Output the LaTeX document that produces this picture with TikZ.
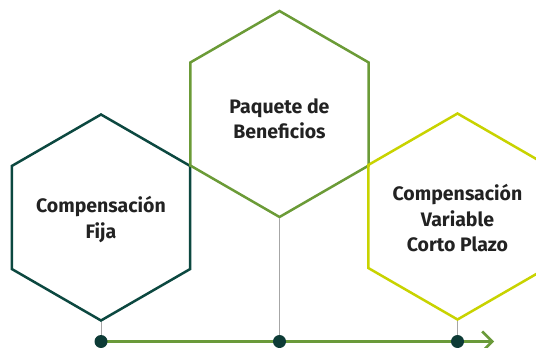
\documentclass[tikz,border=0pt]{standalone}
\usepackage{fontspec}
\setmainfont{Fira Sans}
\usetikzlibrary{shapes.geometric,arrows.meta}
\definecolor{hexdark}{HTML}{0C4840}
\definecolor{hexmid}{HTML}{6B9B37}
\definecolor{hexlime}{HTML}{C8D300}
\definecolor{axisgreen}{HTML}{6A9A3A}
\definecolor{dotdark}{HTML}{0D3B36}
\definecolor{txtdark}{HTML}{222222}
\begin{document}
\begin{tikzpicture}[
  x=1pt, y=-1pt,
  every node/.style = {inner sep=0pt},
  hexa/.style       = {regular polygon, regular polygon sides=6,
                        regular polygon rotate=30, minimum size=206pt,
                        line width=2.5pt},
  lbl/.style        = {font=\fontsize{19.5}{25.5}\selectfont\bfseries,
                        text=txtdark, align=center},
  stem/.style       = {draw=gray!70, line width=1pt},
  dot/.style        = {circle, fill=dotdark, minimum size=13pt},
  axis/.style       = {draw=axisgreen, line width=2.6pt,
                        -{Straight Barb[length=10pt, width=20pt]}},
]
\useasboundingbox (0,0) rectangle (536,348);
\clip (0,0) rectangle (536,348);

% ── HEXAGONS ────────────────────────────────────────────────────────────────
\node[hexa, draw=hexdark] (fija) at (101, 217.5) {};
\node[hexa, draw=hexmid]  (paq)  at (279.5, 114) {};
\node[hexa, draw=hexlime] (var)  at (457.5, 216.5) {};

\node[lbl] (fijaT) at ([yshift=-2pt]fija.center) {Compensación\\Fija};
\node[lbl] (paqT)  at ([yshift=-5pt]paq.center)  {Paquete de\\Beneficios};
\node[lbl] (varT)  at ([yshift=-2pt]var.center)
  {Compensación\\Variable\\Corto Plazo};

% ── TIMELINE ────────────────────────────────────────────────────────────────
\coordinate (dA) at (101, 341.5);
\coordinate (dB) at (279.5, 341.5);
\coordinate (dC) at (457.5, 341.5);
\coordinate (tip) at (494, 341.5);

\draw[stem] (fija.south) -- (dA);
\draw[stem] (paq.south)  -- (dB);
\draw[stem] (var.south)  -- (dC);
\draw[axis] (dA) -- (tip);

\node[dot] (ptA) at (dA) {};
\node[dot] (ptB) at (dB) {};
\node[dot] (ptC) at (dC) {};

\end{tikzpicture}
\end{document}
